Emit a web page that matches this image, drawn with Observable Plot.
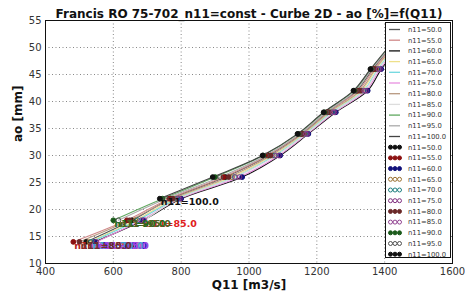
<!DOCTYPE html>
<html>
<head>
<meta charset="utf-8">
<script src="https://cdn.jsdelivr.net/npm/d3@7"></script>
<script src="https://cdn.jsdelivr.net/npm/@observablehq/plot@0.6"></script>
<style>
  html, body { margin: 0; padding: 0; background: white; }
  #wrap { position: relative; width: 465px; height: 296px; font-family: "DejaVu Sans", sans-serif; }
  #legend { position: absolute; left: 385px; top: 22px; }
</style>
</head>
<body>
<div id="wrap"></div>
<script>
// ---- data ----
const title = "Francis RO 75-702_n11=const - Curbe 2D - ao [%]=f(Q11)";
const xLabel = "Q11 [m3/s]";
const yLabel = "ao [mm]";
const xTicks = [400, 600, 800, 1000, 1200, 1400, 1600];
const yTicks = [10, 15, 20, 25, 30, 35, 40, 45, 50, 55];

const levels = [14, 18, 22, 26, 30, 34, 38, 42, 46, 50];   // ao [mm]
const n11Values = [50, 55, 60, 65, 70, 75, 80, 85, 90, 95, 100];

// Q11 at each ao level, one array per n11 curve (null = curve starts later)
const q50  = [520, 655, 770, 930, 1058, 1155, 1232, 1318, 1365, 1418];
const q55  = [482, 640, 765, 925, 1055, 1152, 1230, 1322, 1368, 1420];
const q60  = [545, 688, 800, 980, 1092, 1175, 1256, 1350, 1390, 1440];
const q65  = [530, 665, 782, 950, 1070, 1162, 1240, 1332, 1375, 1426];
const q70  = [535, 672, 788, 958, 1076, 1166, 1245, 1338, 1380, 1430];
const q75  = [550, 682, 796, 972, 1088, 1172, 1252, 1345, 1386, 1436];
const q80  = [500, 648, 775, 940, 1064, 1158, 1236, 1328, 1372, 1423];
const q85  = [null, 692, 792, 960, 1080, 1168, 1248, 1340, 1382, 1432];
const q90  = [null, 600, 745, 900, 1042, 1145, 1222, 1310, 1360, 1412];
const q95  = [null, 615, 755, 915, 1050, 1150, 1228, 1315, 1362, 1415];
const q100 = [null, null, 737, 893, 1040, 1143, 1220, 1308, 1358, 1410];
const qSeries = [q50, q55, q60, q65, q70, q75, q80, q85, q90, q95, q100];

// styles
const lineColors   = ["#555555", "#d08a8a", "#111111", "#eee08a", "#70d8e0", "#e890e0", "#b89880", "#dddddd", "#60a860", "#aaaaaa", "#444444"];
const markerColors = ["#111111", "#8b1010", "#10107a", "#9a7030", "#208080", "#803080", "#6a2828", "#904090", "#1a5a1a", "#505050", "#111111"];
const markerFilled = [true, true, true, false, false, false, true, false, true, false, true];
const labelColors  = ["#8b1a1a", "#b02020", "#2020c0", "#c060c0", "#40a0d0", "#a040e0", "#703030", "#e02020", "#207020", "#506020", "#111111"];

// ---- build rows ----
const rows = [];
const firsts = [];
n11Values.forEach((n, i) => {
  let first = true;
  qSeries[i].forEach((q, j) => {
    if (q == null) return;
    const r = {n11: n, ao: levels[j], Q: q, lc: lineColors[i], mc: markerColors[i],
               fill: markerFilled[i] ? markerColors[i] : "none", tc: labelColors[i]};
    rows.push(r);
    if (first) { firsts.push(r); first = false; }
  });
});

const fmt = d3.format("d");
const chart = Plot.plot({
  width: 465, height: 296,
  marginLeft: 45, marginRight: 13, marginTop: 20, marginBottom: 33,
  x: {domain: [400, 1600]},
  y: {domain: [10, 55]},
  color: {type: "identity"},
  style: {fontFamily: "DejaVu Sans", fontSize: "10px", color: "#222", background: "white", overflow: "visible"},
  marks: [
    Plot.gridX(xTicks, {stroke: "#888", strokeOpacity: 1, strokeDasharray: "1,2.5"}),
    Plot.gridY(yTicks, {stroke: "#888", strokeOpacity: 1, strokeDasharray: "1,2.5"}),
    Plot.axisX(xTicks, {tickSize: 0, tickPadding: 4, label: null, fontSize: 10, fill: "#333", tickFormat: fmt}),
    Plot.axisY(yTicks, {tickSize: 0, tickPadding: 4, label: null, fontSize: 10, fill: "#333", tickFormat: fmt}),
    Plot.line(rows, {x: "Q", y: "ao", z: "n11", stroke: "lc", strokeWidth: 1.1, curve: "catmull-rom"}),
    Plot.dot(rows, {x: "Q", y: "ao", r: 2.4, fill: "fill", stroke: "mc", strokeWidth: 1}),
    Plot.text(firsts, {x: "Q", y: "ao", text: d => "n11=" + d.n11.toFixed(1), fill: "tc",
      fontWeight: "bold", fontSize: 9.5, textAnchor: "start", lineAnchor: "top", dy: 0, dx: 1}),
    Plot.frame({stroke: "#111", strokeWidth: 1}),
    Plot.text([title], {text: d => d, frameAnchor: "top", lineAnchor: "bottom", dy: -3,
      fontWeight: "bold", fontSize: 12, fill: "#111"}),
    Plot.text([xLabel], {text: d => d, frameAnchor: "bottom", lineAnchor: "top", dy: 17,
      fontWeight: "bold", fontSize: 12, fill: "#111"}),
    Plot.text([yLabel], {text: d => d, frameAnchor: "left", rotate: -90, dx: -27,
      fontWeight: "bold", fontSize: 12, fill: "#111"})
  ]
});
document.getElementById("wrap").appendChild(chart);

// ---- legend overlay ----
const legW = 66, legH = 236, rowH = 10.7, row0 = 7.5;
const leg = d3.select("#wrap").append("svg").attr("id", "legend")
  .attr("width", legW).attr("height", legH);
leg.append("rect").attr("x", 0.5).attr("y", 0.5).attr("width", legW - 1).attr("height", legH - 1)
  .attr("fill", "white").attr("stroke", "#111");
n11Values.forEach((n, i) => {
  const y = row0 + i * rowH;
  leg.append("line").attr("x1", 4).attr("x2", 15).attr("y1", y).attr("y2", y)
    .attr("stroke", lineColors[i]).attr("stroke-width", 1.3);
  leg.append("text").attr("x", 23).attr("y", y).attr("dy", "0.35em")
    .attr("font-family", "DejaVu Sans").attr("font-size", 6.8).attr("fill", "#333")
    .text("n11=" + n.toFixed(1));
});
n11Values.forEach((n, i) => {
  const y = row0 + (i + 11) * rowH;
  [5.5, 10, 14.5].forEach(cx => {
    leg.append("circle").attr("cx", cx).attr("cy", y).attr("r", 2)
      .attr("fill", markerFilled[i] ? markerColors[i] : "none")
      .attr("stroke", markerColors[i]).attr("stroke-width", 1);
  });
  leg.append("text").attr("x", 23).attr("y", y).attr("dy", "0.35em")
    .attr("font-family", "DejaVu Sans").attr("font-size", 6.8).attr("fill", "#333")
    .text("n11=" + n.toFixed(1));
});
</script>
</body>
</html>
